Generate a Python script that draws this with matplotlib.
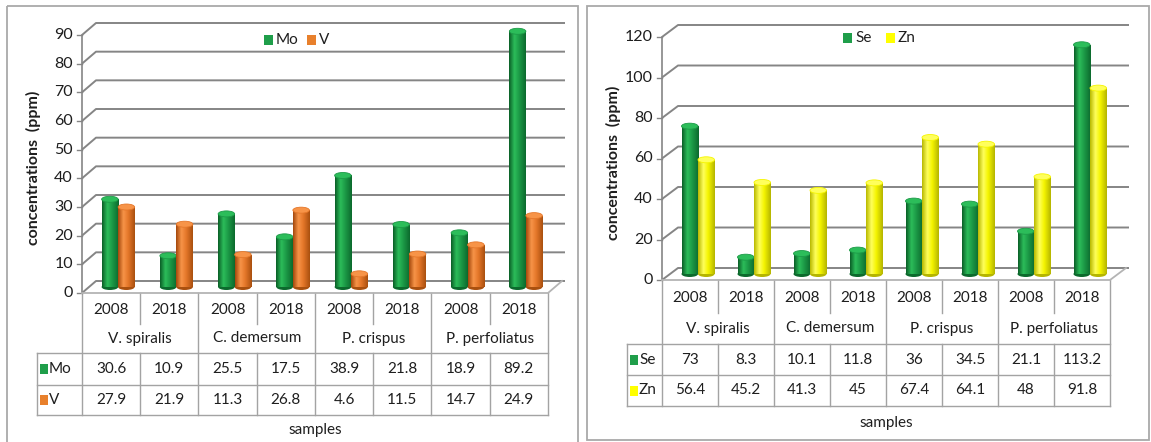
import numpy as np
import matplotlib
matplotlib.use("Agg")
import matplotlib.pyplot as plt
from matplotlib.patches import Rectangle, Ellipse
from matplotlib.colors import to_rgb

plt.rcParams["font.family"] = ["Lato", "DejaVu Sans"]

# ---- data -------------------------------------------------------------
years = ["2008", "2018"]
species = ["V. spiralis", "C. demersum", "P. crispus", "P. perfoliatus"]

mo = [30.6, 10.9, 25.5, 17.5, 38.9, 21.8, 18.9, 89.2]
v = [27.9, 21.9, 11.3, 26.8, 4.6, 11.5, 14.7, 24.9]
se = [73, 8.3, 10.1, 11.8, 36, 34.5, 21.1, 113.2]
zn = [56.4, 45.2, 41.3, 45, 67.4, 64.1, 48, 91.8]

left_ticks = [0, 10, 20, 30, 40, 50, 60, 70, 80, 90]
right_ticks = [0, 20, 40, 60, 80, 100, 120]

y_label = "concentrations  (ppm)"
x_label = "samples"

# ---- styling ------------------------------------------------------------
W, H, DPI = 1151, 442, 100
TXT = "#1e1e1e"
GRID = "#858585"
TABLE = "#a3a3a3"
FRAME = "#a9a9a9"
FS_TICK = 11.5
FS_TAB = 11

GREEN = ["#0a5e27", "#2cbd5a", "#1c9a47", "#0c6a2d"]
ORANGE = ["#a4480c", "#f79448", "#e5772a", "#a9500f"]
YELLOW = ["#b8b800", "#ffff5c", "#f5f500", "#b5b500"]
SWATCH = {"g": "#1f9e4a", "o": "#e8802c", "y": "#ffff00"}


def gradient(stops):
    pos = [0.0, 0.32, 0.6, 1.0]
    cols = np.array([to_rgb(c) for c in stops])
    xs = np.linspace(0, 1, 64)
    rgb = np.stack([np.interp(xs, pos, cols[:, k]) for k in range(3)], axis=-1)
    return rgb[np.newaxis, :, :]


fig = plt.figure(figsize=(W / DPI, H / DPI), dpi=DPI)

# overlay in pixel units for frames, legends and data tables
ov = fig.add_axes([0, 0, 1, 1])
ov.set_xlim(0, W)
ov.set_ylim(H, 0)
ov.axis("off")


def px_rect(xl, yt, xr, yb):
    return [xl / W, 1 - yb / H, (xr - xl) / W, (yb - yt) / H]


def cylinders(ax, xs, vals, width, base, stops, cap_h, z):
    bars = ax.bar(xs, vals, width=width, bottom=base, align="edge",
                  color=stops[2], linewidth=0, zorder=z)
    grad = gradient(stops)
    for b, val in zip(bars, vals):
        left = b.get_x()
        right = left + b.get_width()
        top = base + val
        cx = left + width / 2
        ax.add_patch(Ellipse((cx, base), width, cap_h, facecolor=stops[3],
                             linewidth=0, zorder=z - 0.1))
        im = ax.imshow(grad, extent=[left, right, base, top], aspect="auto",
                       interpolation="bilinear", zorder=z + 0.1)
        im.set_clip_path(b)
        ax.add_patch(Ellipse((cx, top), width, cap_h, facecolor=stops[1],
                             edgecolor=stops[2], linewidth=0.6, zorder=z + 0.2))


def chart(x0, cw, y0px, ytop, ymax, ticks, depth, series, names, stops,
          swatches, legend_x, legend_y, table_rows, hx, ylab_x,
          samples_y, panel):
    n = len(series[0])
    sy = (y0px - ytop) / ymax
    xlo, xhi = -1.0, n + 1.0
    ylo, yhi = -ymax * 0.1, ymax * 1.15
    ax = fig.add_axes(px_rect(x0 + xlo * cw, y0px - yhi * sy,
                              x0 + xhi * cw, y0px - ylo * sy))
    ax.axis("off")
    ddx = depth[0] / cw
    ddy = depth[1] / sy

    # side wall + back wall gridlines
    for t in ticks:
        ax.plot([0, ddx, n + ddx + 3 / cw], [t, t + ddy, t + ddy],
                color=GRID, lw=1.4, solid_capstyle="butt", zorder=1)
        ax.plot([-5 / cw, 0], [t, t], color=GRID, lw=1.0, zorder=1)
        ax.text(-9 / cw, t, str(t), ha="right", va="center",
                fontsize=FS_TICK, color=TXT)
    ax.plot([0, 0], [0, ymax], color=GRID, lw=1.2, zorder=1)
    # floor edges
    ax.plot([0, n, n + ddx], [0, 0, ddy], color="#b4b4b4", lw=1.3, zorder=1)

    # cylinders
    w = 16.5 / cw
    centers = np.arange(n) + 0.5 + ddx / 2
    cap_h = 6 / sy
    for k, (vals, st) in enumerate(zip(series, stops)):
        cylinders(ax, centers - w + k * w, vals, w, ddy / 2, st, cap_h, 3 + k)
    ax.set_xlim(xlo, xhi)
    ax.set_ylim(ylo, yhi)

    # legend
    lx = legend_x
    for name, sw in zip(names, swatches):
        ov.add_patch(Rectangle((lx, legend_y - 5), 9, 10, facecolor=SWATCH[sw],
                               linewidth=0))
        ov.text(lx + 12, legend_y, name, ha="left", va="center",
                fontsize=FS_TAB, color=TXT)
        lx += 12 + 8.5 * len(name) + 14

    # data table
    X = [x0 + i * cw for i in range(n + 1)]
    r0, r1, r2, r3, r4 = table_rows
    lk = dict(color=TABLE, lw=1.0)
    for i in range(n + 1):
        if i % 2 == 0:
            ov.plot([X[i], X[i]], [r0, r4], **lk)
        else:
            ov.plot([X[i], X[i]], [r0, r1], **lk)
            ov.plot([X[i], X[i]], [r2, r4], **lk)
    for r in (r2, r3, r4):
        ov.plot([hx, X[-1]], [r, r], **lk)
    ov.plot([hx, hx], [r2, r4], **lk)

    for i in range(n):
        ov.text(X[i] + cw / 2, (r0 + r1) / 2 + 1, years[i % 2], ha="center",
                va="center", fontsize=FS_TAB, color=TXT)
    for j, sp in enumerate(species):
        ov.text(X[2 * j] + cw, (r1 + r2) / 2, sp, ha="center", va="center",
                fontsize=FS_TAB, color=TXT)
    for vals, name, sw, (ra, rb) in zip(series, names, swatches,
                                         [(r2, r3), (r3, r4)]):
        ym = (ra + rb) / 2
        ov.add_patch(Rectangle((hx + 3, ym - 5), 8, 10, facecolor=SWATCH[sw],
                               linewidth=0))
        ov.text(hx + 12, ym, name, ha="left", va="center", fontsize=FS_TAB,
                color=TXT)
        for i, val in enumerate(vals):
            ov.text(X[i] + cw / 2, ym, f"{val:g}", ha="center", va="center",
                    fontsize=FS_TAB, color=TXT)

    ov.text(ylab_x, (ytop + y0px) / 2 + 4, y_label, rotation=90, ha="center",
            va="center", fontsize=11.5, fontweight="bold", color=TXT)
    ov.text((X[0] + X[-1]) / 2, samples_y, x_label, ha="center", va="center",
            fontsize=FS_TAB, color=TXT)

    px0, py0, px1, py1 = panel
    ov.add_patch(Rectangle((px0, py0), px1 - px0, py1 - py0, fill=False,
                           edgecolor=FRAME, lw=1.3))


chart(x0=82, cw=58.25, y0px=293, ytop=35, ymax=90, ticks=left_ticks,
      depth=(14, 12), series=[mo, v], names=["Mo", "V"],
      stops=[GREEN, ORANGE], swatches=["g", "o"], legend_x=264, legend_y=40,
      table_rows=(293, 324, 353, 385, 415), hx=37, ylab_x=33,
      samples_y=430, panel=(7, 6, 578, 446))

chart(x0=662, cw=56, y0px=280, ytop=37, ymax=120, ticks=right_ticks,
      depth=(16, 12), series=[se, zn], names=["Se", "Zn"],
      stops=[GREEN, YELLOW], swatches=["g", "y"], legend_x=843, legend_y=38,
      table_rows=(280, 313, 344, 375, 406), hx=627, ylab_x=613,
      samples_y=423, panel=(587, 6, 1149.5, 440))

fig.savefig("out.png", dpi=DPI)
